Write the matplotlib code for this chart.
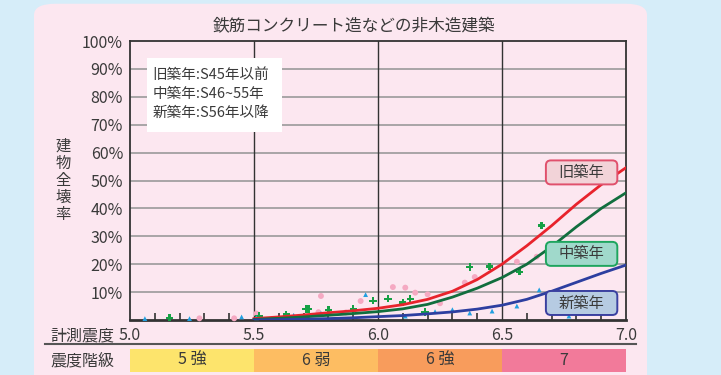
import matplotlib
matplotlib.use("Agg")
import matplotlib.pyplot as plt
from matplotlib.patches import FancyBboxPatch, Rectangle

plt.rcParams["font.family"] = ["Noto Sans CJK JP", "DejaVu Sans"]

# 被害曲線 (計測震度 -> 全壊率 %)
curve_x = [5.5, 5.6, 5.7, 5.8, 5.9, 6.0, 6.1, 6.2, 6.3, 6.4, 6.5, 6.6, 6.7, 6.8, 6.9, 7.0]
old_curve = [0.5, 1.1, 1.8, 2.6, 3.3, 4.2, 5.5, 7.4, 10.3, 14.5, 20.0, 26.6, 33.8, 41.5, 48.5, 54.6]
mid_curve = [0.2, 0.6, 1.1, 1.7, 2.3, 3.0, 4.0, 5.6, 8.2, 11.4, 15.2, 20.0, 26.3, 33.4, 40.0, 45.6]
new_curve = [0.0, 0.15, 0.3, 0.5, 0.8, 1.2, 1.6, 2.2, 2.9, 3.9, 5.3, 7.4, 10.3, 13.5, 16.7, 19.7]

# 実被害データ
old_x = [5.28, 5.42, 5.51, 5.76, 5.77, 5.87, 5.93, 6.06, 6.11, 6.15, 6.20, 6.25, 6.35, 6.39, 6.56, 6.64]
old_y = [0.6, 0.6, 2.3, 2.8, 8.6, 2.7, 6.8, 11.8, 11.6, 9.8, 9.2, 6.0, 13.4, 15.4, 20.9, 22.7]
mid_x = [5.16, 5.52, 5.63, 5.71, 5.72, 5.80, 5.90, 5.98, 6.04, 6.10, 6.13, 6.19, 6.37, 6.45, 6.57, 6.66]
mid_y = [0.8, 1.5, 2.0, 3.9, 3.9, 3.6, 3.9, 6.9, 7.6, 6.3, 7.6, 2.9, 19.0, 19.2, 17.3, 33.9]
new_x = [5.06, 5.24, 5.45, 5.51, 5.66, 5.77, 5.95, 6.11, 6.23, 6.30, 6.37, 6.46, 6.56, 6.65, 6.77]
new_y = [0.5, 0.5, 1.1, 0.8, 1.7, 2.4, 9.1, 1.4, 3.0, 3.7, 2.5, 3.2, 5.0, 10.8, 1.4]

y_ticks = [10, 20, 30, 40, 50, 60, 70, 80, 90, 100]
x_ticks = [5.0, 5.5, 6.0, 6.5, 7.0]
class_edges = [5.0, 5.5, 6.0, 6.5, 7.0]
class_labels = ["5 強", "6 弱", "6 強", "7"]
class_colors = ["#fde46c", "#fdbd62", "#f89c5c", "#f27a9a"]

TXT = "#3a3a3a"
W, H = 721, 375

fig = plt.figure(figsize=(W / 100, H / 100), dpi=100)
fig.patch.set_facecolor("#d6edf9")

# ピンクのパネル
panel = FancyBboxPatch((34 / W, -0.05), 613 / W, 1.04, boxstyle="round,pad=0,rounding_size=0.03",
                       transform=fig.transFigure, facecolor="#fce7f0", edgecolor="none", zorder=-10)
fig.patches.append(panel)

ax = fig.add_axes([130 / W, 1 - 320 / H, 496 / W, 279 / H])
ax.set_facecolor("#fce7f0")
ax.set_xlim(5.0, 7.0)
ax.set_ylim(0, 100)

for v in y_ticks[:-1]:
    ax.axhline(v, color="#9a9a9a", lw=1.2, zorder=1)
for v in x_ticks[1:-1]:
    ax.axvline(v, color="#333333", lw=1.0, zorder=1)
for s in ax.spines.values():
    s.set_color("#333333")
    s.set_linewidth(1.3)
ax.spines["bottom"].set_linewidth(2.0)

ax.set_yticks(y_ticks)
ax.set_yticklabels([f"{v}%" for v in y_ticks], fontsize=11.5, color=TXT)
ax.tick_params(axis="y", length=0, pad=5)
ax.set_xticks([5.1, 5.2, 5.3, 5.4, 5.6, 5.7, 5.8, 5.9, 6.1, 6.2, 6.3, 6.4, 6.6, 6.7, 6.8, 6.9])
ax.set_xticklabels([])
ax.tick_params(axis="x", direction="in", length=5, width=1.2, color="#333333")

ax.scatter(old_x, old_y, s=18, color="#f5a9c2", edgecolors="none", zorder=3, clip_on=False)
ax.scatter(mid_x, mid_y, s=28, marker="P", color="#16a045", edgecolors="none", zorder=3, clip_on=False)
ax.scatter(new_x, new_y, s=12, marker="^", color="#22a0e0", edgecolors="none", zorder=3, clip_on=False)

ax.plot(curve_x, old_curve, color="#e8232c", lw=2.0, zorder=4)
ax.plot(curve_x, mid_curve, color="#116e3e", lw=2.0, zorder=4)
ax.plot(curve_x, new_curve, color="#2d3fa0", lw=2.0, zorder=4)

# 凡例ボックス
ax.add_patch(Rectangle((5.068, 67.5), 0.545, 26.5, facecolor="white", edgecolor="none", zorder=5))
for i, t in enumerate(["旧築年:S45年以前", "中築年:S46~55年", "新築年:S56年以降"]):
    ax.text(5.09, 87.7 - i * 6.8, t, fontsize=10.5, color=TXT, va="center", ha="left", zorder=6)

# 曲線ラベル
aspect = (100 / 279) / (2.0 / 496)
tags = [("旧築年", 48.6, "#f2d3d8", "#e0506c"),
        ("中築年", 19.4, "#a0d9cb", "#1ea55e"),
        ("新築年", 1.8, "#b6cbe2", "#3a40a0")]
for t, y0, fc, ec in tags:
    ax.add_patch(FancyBboxPatch((6.677, y0), 0.288, 8.6, boxstyle="round,pad=0,rounding_size=0.02",
                                mutation_aspect=aspect, facecolor=fc, edgecolor=ec, lw=1.4, zorder=7))
    ax.text(6.821, y0 + 4.3, t, fontsize=11, color=TXT, ha="center", va="center", zorder=8)

fig.text(354 / W, 1 - 27 / H, "鉄筋コンクリート造などの非木造建築", fontsize=12, color=TXT,
         ha="center", va="center")
fig.text(63 / W, 1 - 180 / H, "\n".join("建物全壊率"), fontsize=11, color=TXT,
         ha="center", va="center", linespacing=1.0)

# 計測震度の目盛り
for v in x_ticks:
    ax.text(v, -5.7, f"{v:.1f}", fontsize=11.5, color=TXT, ha="center", va="center", clip_on=False)
fig.text(50 / W, 1 - 336 / H, "計測震度", fontsize=11.5, color=TXT, ha="left", va="center")
fig.add_artist(plt.Line2D([45 / W, 636 / W], [1 - 344 / H, 1 - 344 / H], color="#555555", lw=1.5))

# 震度階級の帯
bx = fig.add_axes([130 / W, 1 - 371.5 / H, 496 / W, 22.5 / H])
bx.set_xlim(5.0, 7.0)
bx.set_ylim(0, 1)
bx.axis("off")
for i, lab in enumerate(class_labels):
    bx.axvspan(class_edges[i], class_edges[i + 1], color=class_colors[i], lw=0)
    bx.text((class_edges[i] + class_edges[i + 1]) / 2, 0.5, lab, fontsize=11.5, color=TXT,
            ha="center", va="center")
fig.text(50 / W, 1 - 361 / H, "震度階級", fontsize=11.5, color=TXT, ha="left", va="center")

fig.savefig("out.png", dpi=100, facecolor=fig.get_facecolor())
